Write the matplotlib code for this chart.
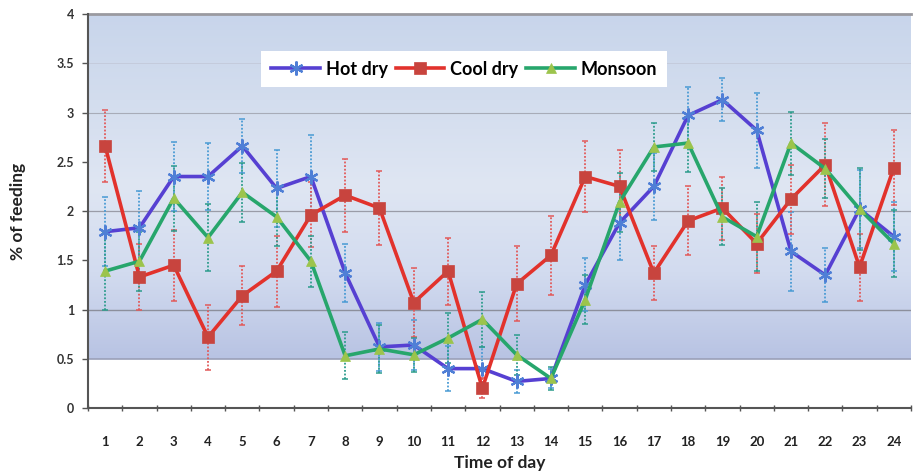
import numpy as np
import matplotlib.pyplot as plt
from matplotlib.colors import LinearSegmentedColormap

plt.rcParams['font.family'] = ['Lato', 'DejaVu Sans']

hours = list(range(1, 25))

hot_dry = [1.79, 1.83, 2.35, 2.35, 2.66, 2.23, 2.35, 1.37, 0.62, 0.64, 0.40, 0.40,
           0.27, 0.30, 1.25, 1.88, 2.25, 2.97, 3.13, 2.82, 1.59, 1.35, 2.02, 1.74]
hot_dry_err = [0.35, 0.37, 0.35, 0.34, 0.27, 0.39, 0.42, 0.29, 0.24, 0.25, 0.23, 0.22,
               0.12, 0.10, 0.27, 0.38, 0.34, 0.29, 0.22, 0.38, 0.40, 0.27, 0.40, 0.35]

cool_dry = [2.66, 1.33, 1.45, 0.72, 1.14, 1.39, 1.96, 2.16, 2.03, 1.07, 1.39, 0.20,
            1.26, 1.55, 2.35, 2.25, 1.37, 1.90, 2.03, 1.67, 2.12, 2.47, 1.43, 2.44]
cool_dry_err = [0.37, 0.34, 0.36, 0.33, 0.30, 0.36, 0.33, 0.37, 0.38, 0.35, 0.34, 0.10,
                0.38, 0.40, 0.36, 0.37, 0.27, 0.35, 0.32, 0.30, 0.35, 0.42, 0.34, 0.38]

monsoon = [1.39, 1.49, 2.13, 1.73, 2.19, 1.94, 1.49, 0.53, 0.60, 0.54, 0.71, 0.90,
           0.54, 0.30, 1.10, 2.09, 2.65, 2.69, 1.94, 1.74, 2.69, 2.43, 2.02, 1.67]
monsoon_err = [0.39, 0.30, 0.33, 0.34, 0.30, 0.30, 0.26, 0.24, 0.24, 0.17, 0.25, 0.28,
               0.20, 0.12, 0.25, 0.30, 0.24, 0.29, 0.29, 0.35, 0.32, 0.30, 0.42, 0.34]

series = [
    ("Hot dry", hot_dry, hot_dry_err, "#5640d2", "#4f7fd6", "#4a9bd4", (6, 2, 0), 10, 1.6),
    ("Cool dry", cool_dry, cool_dry_err, "#e2322c", "#c8443e", "#e25a5a", "s", 9, 0.5),
    ("Monsoon", monsoon, monsoon_err, "#27a66c", "#9cc44c", "#2c9c8c", "^", 7, 0.5),
]

fig = plt.figure(figsize=(9.14, 4.73), dpi=100)
ax = fig.add_axes([0.0963, 0.1374, 0.9004, 0.833])

# shaded band behind the data
band_cmap = LinearSegmentedColormap.from_list(
    "band", ["#b8c3e3", "#d2dbef", "#dfe6f3", "#d3ddee", "#c8d5eb"])
grad = np.linspace(0, 1, 256).reshape(-1, 1)
ax.imshow(grad, extent=[0.5, 24.5, 0.5, 4.0], origin="lower", aspect="auto",
          cmap=band_cmap, zorder=0)

for gy, col, lw in [(0.5, "#9aa0b8", 1.2), (1, "#8c8f9c", 1.0), (2, "#9a9ca8", 0.9),
                    (3, "#a8acb8", 0.8), (3.5, "#c4cbdc", 0.7)]:
    ax.axhline(gy, color=col, lw=lw, zorder=1)

for name, vals, errs, lc, mc, ec, mk, ms, mew in series:
    eb = ax.errorbar(hours, vals, yerr=errs, fmt="none", ecolor=ec, elinewidth=1.3,
                     capsize=2.5, capthick=1.1, zorder=2)
    for coll in eb[2]:
        coll.set_linestyle((0, (1, 1)))
    ax.plot(hours, vals, color=lc, lw=2.6, marker=mk, markersize=ms,
            markerfacecolor=mc, markeredgecolor=mc, markeredgewidth=mew,
            label=name, zorder=3)

ax.set_xlim(0.5, 24.5)
ax.set_ylim(0, 4)

ax.set_yticks(np.arange(0, 4.01, 0.5))
ax.set_yticklabels([f"{v:g}" for v in np.arange(0, 4.01, 0.5)],
                   fontsize=9, fontweight="bold", color="#333333")
ax.set_xticks(hours)
ax.set_xticklabels([str(h) for h in hours], fontsize=9.5, fontweight="bold",
                   color="#222222")
ax.set_xticks(np.arange(0.5, 24.6, 1), minor=True)
ax.tick_params(axis="x", which="major", length=0, pad=20)
ax.tick_params(axis="x", which="minor", length=5, direction="inout",
               color="#555555", width=1)
ax.tick_params(axis="y", length=4, color="#555555", width=1, pad=6)

for s in ["top", "right"]:
    ax.spines[s].set_visible(False)
ax.spines["left"].set_color("#555555")
ax.spines["left"].set_linewidth(1.5)
ax.spines["bottom"].set_color("#555555")
ax.spines["bottom"].set_linewidth(1.5)
ax.axhline(4.0, color="#9a9aa0", lw=2, zorder=1, clip_on=False)

ax.set_xlabel("Time of day", fontsize=12.5, fontweight="bold", color="#222222",
              labelpad=5)
ax.set_ylabel("% of feeding", fontsize=12.5, fontweight="bold", color="#222222",
              labelpad=22)

leg = ax.legend(loc="upper center", bbox_to_anchor=(0.457, 0.93), ncol=3,
                frameon=True, fancybox=False, framealpha=1, edgecolor="white",
                prop={"weight": "bold", "size": 13}, handlelength=2.7,
                columnspacing=0.45, handletextpad=0.3, borderpad=0.55)
leg.get_frame().set_linewidth(0)

fig.savefig("out.png", dpi=100, facecolor="white")
